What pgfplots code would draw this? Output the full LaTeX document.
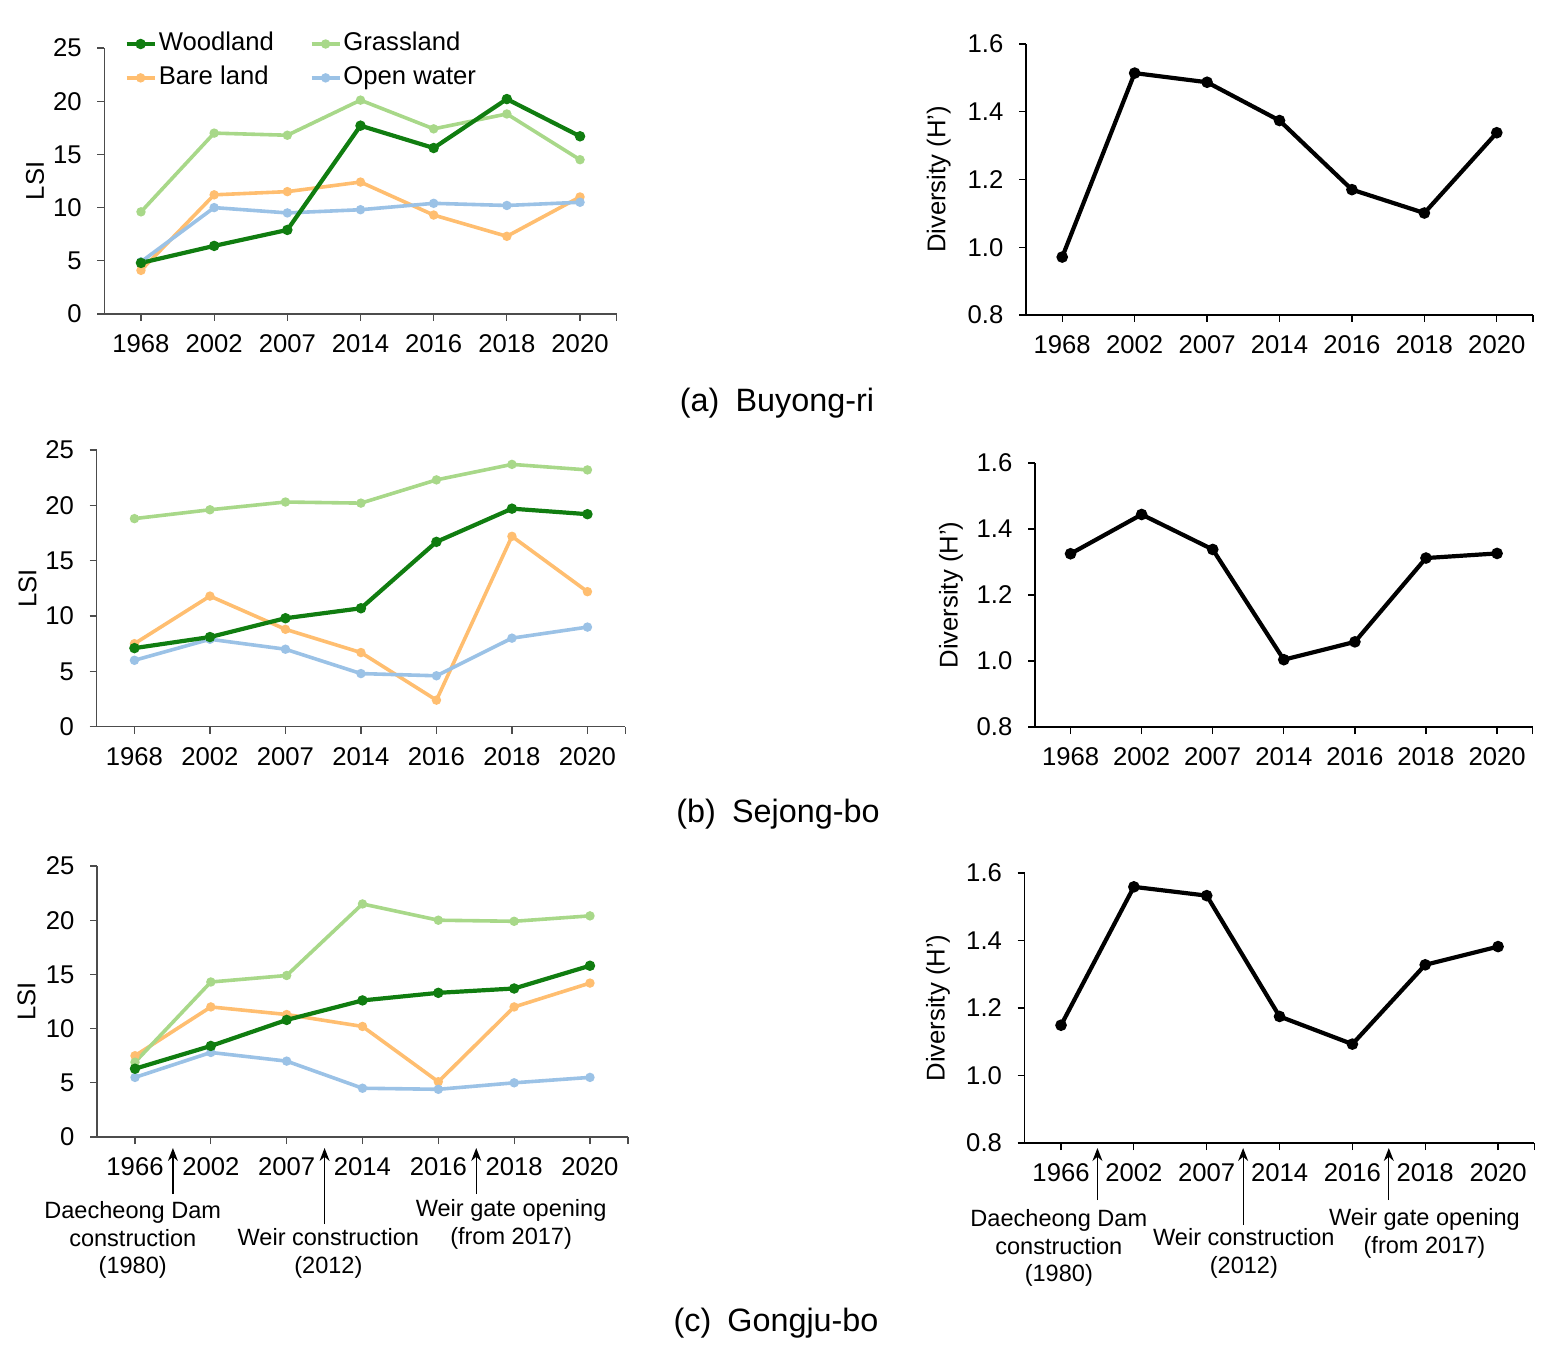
\documentclass[border=0pt]{standalone}
\usepackage{fontspec}
\setmainfont{Liberation Sans}
\usepackage{pgfplots}
\usepackage{pgfplotstable}
\pgfplotsset{compat=1.18}
\usetikzlibrary{arrows.meta}

\definecolor{wood}{RGB}{16,125,16}
\definecolor{grass}{RGB}{168,216,137}
\definecolor{bare}{RGB}{255,190,112}
\definecolor{water}{RGB}{155,194,230}

\newcommand\fs{\fontsize{7.3}{8.8}\selectfont}
\newcommand\fa{\fontsize{6.7}{7.8}\selectfont}
\newcommand\fc{\fontsize{9.2}{11}\selectfont}

% LSI per land cover, x = category index
\pgfplotstableread{
x wood grass bare water
0 4.8  9.6  4.1  4.9
1 6.4  17.0 11.2 10.0
2 7.9  16.8 11.5 9.5
3 17.7 20.1 12.4 9.8
4 15.6 17.4 9.3  10.4
5 20.2 18.8 7.3  10.2
6 16.7 14.5 11.0 10.5
}\lsiA
\pgfplotstableread{
x wood grass bare water
0 7.1  18.8 7.5  6.0
1 8.1  19.6 11.8 7.9
2 9.8  20.3 8.8  7.0
3 10.7 20.2 6.7  4.8
4 16.7 22.3 2.4  4.6
5 19.7 23.7 17.2 8.0
6 19.2 23.2 12.2 9.0
}\lsiB
\pgfplotstableread{
x wood grass bare water
0 6.3  6.9  7.5  5.5
1 8.4  14.3 12.0 7.8
2 10.8 14.9 11.3 7.0
3 12.6 21.5 10.2 4.5
4 13.3 20.0 5.1  4.4
5 13.7 19.9 12.0 5.0
6 15.8 20.4 14.2 5.5
}\lsiC
% Shannon diversity H'
\pgfplotstableread{
x a b c
0 0.971 1.325 1.149
1 1.514 1.444 1.559
2 1.487 1.338 1.533
3 1.374 1.004 1.175
4 1.170 1.058 1.093
5 1.101 1.312 1.328
6 1.338 1.326 1.382
}\divT

\tikzset{
  anot/.style={font=\fa, align=center, inner sep=0pt, anchor=north},
  arr/.style={-{Stealth[length=1.3mm,width=1mm]}, line width=0.35pt},
}

\pgfplotsset{
  panel/.style={
    scale only axis, clip=false,
    xmin=-0.5, xmax=6.5, xtick={0,...,6},
    extra x ticks={6.5}, extra x tick labels={},
    axis x line*=bottom, axis y line*=left,
    axis line style={-, line width=0.35pt},
    tick align=outside, major tick length=0.7mm,
    tick style={line width=0.35pt},
    tick label style={font=\fs},
    xticklabel style={inner sep=0pt, anchor=north},
    yticklabel style={inner sep=0pt, anchor=east},
    xticklabel shift=1.3mm, yticklabel shift=1.5mm,
    /pgf/number format/assume math mode=true,
    ylabel style={font=\fs, anchor=center},
  },
  lsi/.style={panel, ymin=0, ymax=25, ytick={0,5,10,15,20,25},
    axis line style={black!70}, tick style={black!70}, ylabel={LSI}},
  div/.style={panel, ymin=0.8, ymax=1.6, ytick={0.8,1,1.2,1.4,1.6},
    axis line style={black}, tick style={black},
    yticklabel style={/pgf/number format/.cd, fixed, fixed zerofill, precision=1},
    ylabel={Diversity (H’)}},
  woodst/.style={color=wood, line width=0.42mm, mark=*, mark size=0.3mm},
  grassst/.style={color=grass, line width=0.36mm, mark=*, mark size=0.28mm},
  barest/.style={color=bare, line width=0.36mm, mark=*, mark size=0.28mm},
  waterst/.style={color=water, line width=0.36mm, mark=*, mark size=0.28mm},
  divst/.style={black, line width=0.42mm, mark=*, mark size=0.36mm},
}

\begin{document}
\begin{tikzpicture}
\useasboundingbox (0,0) rectangle (156.2mm,135.6mm);

% (a) left
\begin{axis}[lsi, at={(10.44mm,104.2mm)}, anchor=south west,
  width=51.22mm, height=26.6mm,
  xticklabels={1968,2002,2007,2014,2016,2018,2020},
  ylabel style={at={(axis description cs:-0.1355,0.5)}},
  legend columns=2,
  legend style={at={(axis description cs:0.038,1.07)}, anchor=north west,
    draw=none, fill=none, inner sep=0pt, font=\fs, row sep=0.6mm,
    nodes={inner sep=0.2mm},
    /tikz/every even column/.append style={column sep=3.4mm}},
  legend cell align=left,
  legend image code/.code={\draw[mark repeat=2,mark phase=2,#1] plot coordinates {(0mm,0mm) (1.4mm,0mm) (2.8mm,0mm)};},
]
\addlegendimage{woodst}\addlegendentry{Woodland}
\addlegendimage{grassst}\addlegendentry{Grassland}
\addlegendimage{barest}\addlegendentry{Bare land}
\addlegendimage{waterst}\addlegendentry{Open water}
\addplot[barest, forget plot] table[x=x,y=bare]{\lsiA};
\addplot[waterst, forget plot] table[x=x,y=water]{\lsiA};
\addplot[grassst, forget plot] table[x=x,y=grass]{\lsiA};
\addplot[woodst, forget plot] table[x=x,y=wood]{\lsiA};
\end{axis}

% (a) right
\begin{axis}[div, at={(102.6mm,104.1mm)}, anchor=south west,
  width=50.7mm, height=27.1mm,
  xticklabels={1968,2002,2007,2014,2016,2018,2020},
  ylabel style={at={(axis description cs:-0.172,0.5)}},
]
\addplot[divst] table[x=x,y=a]{\divT};
\end{axis}

% (b) left
\begin{axis}[lsi, at={(9.67mm,62.93mm)}, anchor=south west,
  width=52.85mm, height=27.67mm,
  xticklabels={1968,2002,2007,2014,2016,2018,2020},
  ylabel style={at={(axis description cs:-0.131,0.5)}},
]
\addplot[barest] table[x=x,y=bare]{\lsiB};
\addplot[waterst] table[x=x,y=water]{\lsiB};
\addplot[grassst] table[x=x,y=grass]{\lsiB};
\addplot[woodst] table[x=x,y=wood]{\lsiB};
\end{axis}

% (b) right
\begin{axis}[div, at={(103.5mm,62.9mm)}, anchor=south west,
  width=49.76mm, height=26.4mm,
  xticklabels={1968,2002,2007,2014,2016,2018,2020},
  ylabel style={at={(axis description cs:-0.169,0.5)}},
]
\addplot[divst] table[x=x,y=b]{\divT};
\end{axis}

% (c) left
\begin{axis}[lsi, at={(9.71mm,21.9mm)}, anchor=south west,
  width=53.08mm, height=27.1mm,
  xticklabels={1966,2002,2007,2014,2016,2018,2020},
  ylabel style={at={(axis description cs:-0.133,0.5)}},
]
\addplot[barest] table[x=x,y=bare]{\lsiC};
\addplot[waterst] table[x=x,y=water]{\lsiC};
\addplot[grassst] table[x=x,y=grass]{\lsiC};
\addplot[woodst] table[x=x,y=wood]{\lsiC};
\draw[arr] ([yshift=-5.7mm]axis cs:0.5,0) -- ([yshift=-1.1mm]axis cs:0.5,0);
\draw[arr] ([yshift=-8.7mm]axis cs:2.5,0) -- ([yshift=-1.1mm]axis cs:2.5,0);
\draw[arr] ([yshift=-5.7mm]axis cs:4.5,0) -- ([yshift=-1.1mm]axis cs:4.5,0);
\node[anot] at ([yshift=-6.4mm]axis cs:-0.03,0) {Daecheong Dam\\construction\\(1980)};
\node[anot] at ([yshift=-9.1mm]axis cs:2.55,0) {Weir construction\\(2012)};
\node[anot] at ([yshift=-6.2mm]axis cs:4.96,0) {Weir gate opening\\(from 2017)};
\end{axis}

% (c) right
\begin{axis}[div, at={(102.46mm,21.3mm)}, anchor=south west,
  width=50.99mm, height=27mm,
  xticklabels={1966,2002,2007,2014,2016,2018,2020},
  ylabel style={at={(axis description cs:-0.170,0.5)}},
]
\addplot[divst] table[x=x,y=c]{\divT};
\draw[arr] ([yshift=-5.7mm]axis cs:0.5,0.8) -- ([yshift=-0.5mm]axis cs:0.5,0.8);
\draw[arr] ([yshift=-8.2mm]axis cs:2.5,0.8) -- ([yshift=-0.5mm]axis cs:2.5,0.8);
\draw[arr] ([yshift=-5.7mm]axis cs:4.5,0.8) -- ([yshift=-0.5mm]axis cs:4.5,0.8);
\node[anot] at ([yshift=-6.6mm]axis cs:-0.03,0.8) {Daecheong Dam\\construction\\(1980)};
\node[anot] at ([yshift=-8.5mm]axis cs:2.51,0.8) {Weir construction\\(2012)};
\node[anot] at ([yshift=-6.5mm]axis cs:4.99,0.8) {Weir gate opening\\(from 2017)};
\end{axis}

% panel captions
\node[font=\fc] at (77.7mm,95.3mm) {(a)\hspace{0.5em}Buyong-ri};
\node[font=\fc] at (77.8mm,54.2mm) {(b)\hspace{0.5em}Sejong-bo};
\node[font=\fc] at (77.6mm,3.25mm) {(c)\hspace{0.5em}Gongju-bo};
\end{tikzpicture}
\end{document}
